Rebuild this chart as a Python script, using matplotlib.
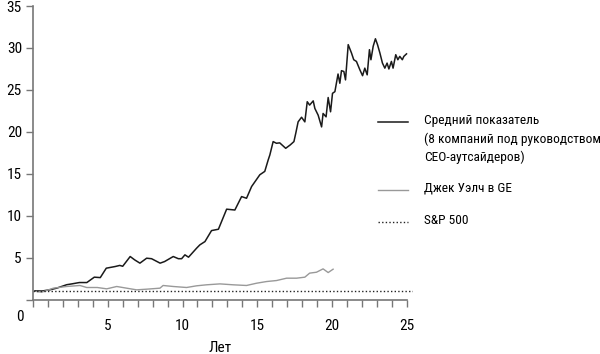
import matplotlib.pyplot as plt
from matplotlib.lines import Line2D

plt.rcParams['font.family'] = ['Roboto Condensed', 'DejaVu Sans']

# average of 8 outsider-CEO companies
avg_years = [0.13, 0.6, 1.14, 1.6, 2.25, 2.6, 3.1, 3.6, 4.1, 4.5, 4.9, 5.5, 5.8, 6.0,
             6.5, 6.8, 7.15, 7.6, 7.93, 8.5, 8.8, 9.38, 9.72, 9.94, 10.16, 10.4,
             10.94, 11.16, 11.5, 11.94, 12.4, 12.95, 13.5, 13.95, 14.28, 14.62,
             15.17, 15.5, 15.73, 15.84, 16.06, 16.28, 16.5, 16.9, 17.2, 17.45,
             17.58, 17.73, 17.96, 18.18, 18.34, 18.5, 18.74, 18.85, 19.07, 19.3,
             19.4, 19.6, 19.74, 19.9, 20.03, 20.19, 20.4, 20.52, 20.63, 20.79,
             20.9, 21.08, 21.3, 21.45, 21.63, 21.86, 22.04, 22.19, 22.35, 22.5,
             22.6, 22.75, 22.9, 23.04, 23.2, 23.37, 23.53, 23.68, 23.8, 23.97,
             24.08, 24.26, 24.4, 24.53, 24.7, 24.8, 24.98]
avg_values = [1.07, 1.05, 1.2, 1.4, 1.8, 1.9, 2.06, 2.06, 2.7, 2.65, 3.77, 3.97, 4.1, 4.0,
              5.16, 4.76, 4.37, 4.96, 4.9, 4.37, 4.56, 5.16, 4.9, 4.9, 5.36, 5.08,
              6.15, 6.55, 6.94, 8.25, 8.41, 10.8, 10.7, 12.3, 12.1, 13.5,
              14.9, 15.3, 16.67, 17.26, 18.85, 18.65, 18.7, 18.05, 18.45, 18.85,
              19.9, 21.2, 21.75, 21.2, 23.6, 23.2, 23.7, 22.8, 22.0, 20.6,
              22.2, 21.8, 24.1, 22.4, 24.6, 24.8, 26.9, 25.8, 27.3, 27.2,
              26.2, 30.4, 29.4, 28.6, 28.4, 27.4, 26.7, 27.6, 26.8, 29.8,
              28.6, 30.2, 31.1, 30.4, 29.4, 28.2, 27.6, 28.2, 27.5, 28.4,
              27.6, 29.2, 28.6, 29.0, 28.6, 29.0, 29.3]

# Jack Welch at GE
welch_years = [0.25, 0.58, 1.36, 2.25, 3.14, 3.59, 4.3, 4.93, 5.6, 6.26, 6.93, 7.6,
               8.49, 8.7, 9.38, 10.27, 10.94, 11.6, 12.5, 13.39, 14.28, 14.95,
               15.62, 16.29, 16.96, 17.63, 18.18, 18.5, 18.96, 19.4, 19.74, 20.07]
welch_values = [0.99, 0.91, 1.39, 1.59, 1.71, 1.47, 1.47, 1.31, 1.59, 1.39, 1.19, 1.27,
                1.39, 1.71, 1.59, 1.47, 1.67, 1.79, 1.9, 1.79, 1.71, 1.98,
                2.18, 2.3, 2.58, 2.58, 2.7, 3.18, 3.29, 3.69, 3.25, 3.65]

# S&P 500
sp_years = [0, 25.4]
sp_values = [1.05, 1.05]

x_ticks = list(range(0, 26))
x_labels = ['' if t % 5 or t == 0 else str(t) for t in x_ticks]
y_ticks = [0, 5, 10, 15, 20, 25, 30, 35]
y_labels = ['', '5', '10', '15', '20', '25', '30', '35']

fig = plt.figure(figsize=(6, 3.54), dpi=100)
ax = fig.add_axes([0.055, 0.153, 0.633, 0.830])

ax.plot(avg_years, avg_values, color='#1a1a1a', lw=1.1)
ax.plot(welch_years, welch_values, color='#999999', lw=1.0)
ax.plot(sp_years, sp_values, color='#222222', lw=1.0, ls=(0, (1, 1.6)))

ax.set_xlim(0, 25.4)
ax.set_ylim(0, 35)
ax.set_xticks(x_ticks)
ax.set_xticklabels(x_labels)
ax.set_yticks(y_ticks)
ax.set_yticklabels(y_labels)

for s in ['top', 'right']:
    ax.spines[s].set_visible(False)
for s in ['left', 'bottom']:
    ax.spines[s].set_color('#777777')
    ax.spines[s].set_linewidth(1.2)
ax.spines['bottom'].set_bounds(0, 25)

ax.tick_params(axis='x', direction='out', length=5, width=1, color='#777777',
               labelsize=11, pad=9)
ax.tick_params(axis='y', direction='out', length=5, width=1, color='#777777',
               labelsize=11, pad=3)

ax.text(-0.6, -2.1, '0', fontsize=11, ha='right', va='center')
fig.text(220 / 600, 1 - 348 / 354, 'Лет', fontsize=11, ha='center', va='center')

# legend drawn by hand, lines aligned with first text row
W, H = 600, 354
entries = [
    (122, dict(color='#1a1a1a', lw=1.1),
     'Средний показатель\n(8 компаний под руководством\nCEO-аутсайдеров)'),
    (190, dict(color='#999999', lw=1.0), 'Джек Уэлч в GE'),
    (222, dict(color='#222222', lw=1.0, ls=(0, (1, 1.6))), 'S&P 500'),
]
for ypix, style, label in entries:
    yf = 1 - ypix / H
    fig.add_artist(Line2D([378 / W, 408 / W], [yf, yf], transform=fig.transFigure, **style))
    fig.text(424 / W, yf + 8 / H, label, fontsize=9.6, va='top', ha='left',
             linespacing=1.5)

fig.savefig('out.png', dpi=100)
